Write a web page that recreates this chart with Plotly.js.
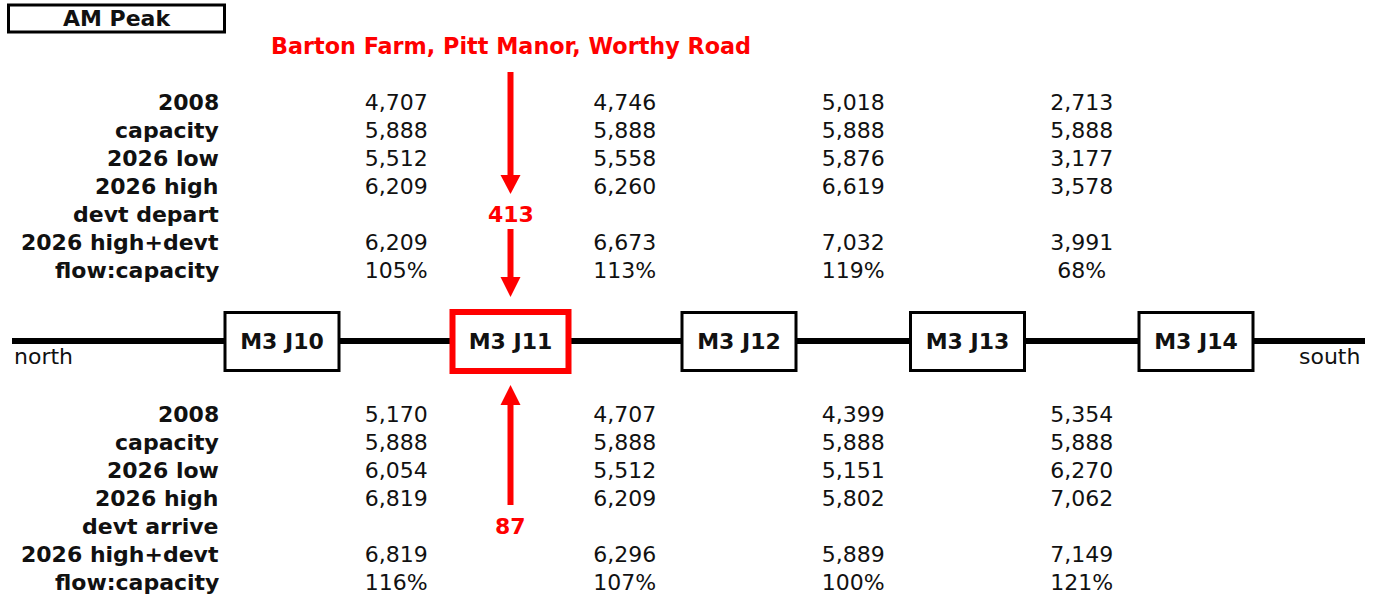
<!DOCTYPE html>
<html>
<head>
<meta charset="utf-8">
<script src="https://cdn.plot.ly/plotly-3.0.1.min.js"></script>
<style>
  html, body { margin: 0; padding: 0; background: #ffffff; }
  #chart { width: 1377px; height: 596px; }
</style>
</head>
<body>
<div id="chart"></div>
<script>
// ---------------- DATA ----------------
const junctions = ["M3 J10", "M3 J11", "M3 J12", "M3 J13", "M3 J14"];
const segments = ["J10-J11", "J11-J12", "J12-J13", "J13-J14"];
const rowLabelsTop = ["2008", "capacity", "2026 low", "2026 high", "devt depart", "2026 high+devt", "flow:capacity"];
const rowLabelsBottom = ["2008", "capacity", "2026 low", "2026 high", "devt arrive", "2026 high+devt", "flow:capacity"];

// southbound (top block)
const top2008 = [4707, 4746, 5018, 2713];
const topCapacity = [5888, 5888, 5888, 5888];
const top2026Low = [5512, 5558, 5876, 3177];
const top2026High = [6209, 6260, 6619, 3578];
const top2026HighDevt = [6209, 6673, 7032, 3991];
const topFlowCapacity = [105, 113, 119, 68];

// northbound (bottom block)
const bottom2008 = [5170, 4707, 4399, 5354];
const bottomCapacity = [5888, 5888, 5888, 5888];
const bottom2026Low = [6054, 5512, 5151, 6270];
const bottom2026High = [6819, 6209, 5802, 7062];
const bottom2026HighDevt = [6819, 6296, 5889, 7149];
const bottomFlowCapacity = [116, 107, 100, 121];

const devtJunction = "M3 J11";
const devtName = "Barton Farm, Pitt Manor, Worthy Road";
const devtDepart = 413;
const devtArrive = 87;
const periodLabel = "AM Peak";

// ---------------- LAYOUT HELPERS ----------------
const FONT = "DejaVu Sans, Verdana, sans-serif";
const RED = "#ff0000";
const INK = "#111111";
const X0 = 282, DX = 228.5;                // pixel of first junction, junction spacing
const px = p => (p - X0) / DX;             // pixel -> x data units
const HW = 10 / DX;                        // half arrow-head width
const fmt = v => v.toLocaleString("en-US");
const pct = v => v + "%";

const jIdx = junctions.map((_, i) => i);
const segIdx = segments.map((_, i) => i + 0.5);
const dj = junctions.indexOf(devtJunction);

const topRowsY = [102, 130, 158, 186, 214, 242, 270];
const botRowsY = [414, 442, 470, 498, 526, 554, 582];

const topRows = [top2008.map(fmt), topCapacity.map(fmt), top2026Low.map(fmt), top2026High.map(fmt), null, top2026HighDevt.map(fmt), topFlowCapacity.map(pct)];
const botRows = [bottom2008.map(fmt), bottomCapacity.map(fmt), bottom2026Low.map(fmt), bottom2026High.map(fmt), null, bottom2026HighDevt.map(fmt), bottomFlowCapacity.map(pct)];

const TXT_DY = 2.5;   // baseline nudge for text traces
const traces = [];
function addRows(rows, ys) {
  rows.forEach((r, k) => {
    if (!r) return;
    traces.push({
      type: "scatter", mode: "text", x: segIdx, y: segIdx.map(() => ys[k] + TXT_DY),
      text: r, textposition: "middle center",
      textfont: { family: FONT, size: 22, color: INK },
      hoverinfo: "skip", showlegend: false, cliponaxis: false
    });
  });
}
addRows(topRows, topRowsY);
addRows(botRows, botRowsY);

// junction labels
traces.push({
  type: "scatter", mode: "text", x: jIdx, y: jIdx.map(() => 341 + TXT_DY),
  text: junctions, textposition: "middle center",
  textfont: { family: FONT, size: 22, color: INK, weight: "bold" },
  hoverinfo: "skip", showlegend: false, cliponaxis: false
});

const annotations = [];
const addLabel = (t, y) => annotations.push({
  x: px(221), y: y, xref: "x", yref: "y", text: "<b>" + t + "</b>",
  showarrow: false, xanchor: "right", yanchor: "middle",
  font: { family: FONT, size: 22, color: INK }
});
rowLabelsTop.forEach((t, k) => addLabel(t, topRowsY[k]));
rowLabelsBottom.forEach((t, k) => addLabel(t, botRowsY[k]));
annotations.push(
  { x: px(117), y: 18, xref: "x", yref: "y", text: "<b>" + periodLabel + "</b>", showarrow: false,
    xanchor: "center", yanchor: "middle", font: { family: FONT, size: 22, color: INK } },
  { x: dj, y: 46, xref: "x", yref: "y", text: "<b>" + devtName + "</b>", showarrow: false,
    xanchor: "center", yanchor: "middle", font: { family: FONT, size: 22.3, color: RED } },
  { x: dj, y: 214, xref: "x", yref: "y", text: "<b>" + fmt(devtDepart) + "</b>", showarrow: false,
    xanchor: "center", yanchor: "middle", font: { family: FONT, size: 22, color: RED } },
  { x: dj, y: 526, xref: "x", yref: "y", text: "<b>" + fmt(devtArrive) + "</b>", showarrow: false,
    xanchor: "center", yanchor: "middle", font: { family: FONT, size: 22, color: RED } },
  { x: px(12), y: 356, xref: "x", yref: "y", text: "north", showarrow: false,
    xanchor: "left", yanchor: "middle", font: { family: FONT, size: 22, color: INK } },
  { x: px(1362), y: 356, xref: "x", yref: "y", text: "south", showarrow: false,
    xanchor: "right", yanchor: "middle", font: { family: FONT, size: 22, color: INK } }
);

const shapes = [];
// road
shapes.push({ type: "line", layer: "below", x0: px(12), x1: px(1365), y0: 341, y1: 341,
  line: { color: "#000", width: 6 } });
// junction boxes
jIdx.forEach(i => {
  if (i === dj) {
    shapes.push({ type: "rect", layer: "below", x0: i - 58 / DX, x1: i + 58 / DX, y0: 312, y1: 371,
      fillcolor: "#fff", line: { color: RED, width: 6 } });
  } else {
    shapes.push({ type: "rect", layer: "below", x0: i - 57 / DX, x1: i + 57 / DX, y0: 312.5, y1: 370.5,
      fillcolor: "#fff", line: { color: "#000", width: 3 } });
  }
});
// period box
shapes.push({ type: "rect", layer: "below", x0: px(8.5), x1: px(224.5), y0: 5, y1: 32,
  fillcolor: "#fff", line: { color: "#000", width: 3 } });
// arrows
function arrowDown(yStart, yHeadBase, yTip) {
  shapes.push({ type: "line", layer: "below", x0: dj, x1: dj, y0: yStart, y1: yHeadBase + 1,
    line: { color: RED, width: 6 } });
  shapes.push({ type: "path", layer: "below",
    path: `M ${dj - HW},${yHeadBase} L ${dj + HW},${yHeadBase} L ${dj},${yTip} Z`,
    fillcolor: RED, line: { color: RED, width: 0 } });
}
arrowDown(72, 175, 194);
arrowDown(229, 277, 297);
// up arrow
shapes.push({ type: "line", layer: "below", x0: dj, x1: dj, y0: 505, y1: 404,
  line: { color: RED, width: 6 } });
shapes.push({ type: "path", layer: "below",
  path: `M ${dj - HW},405 L ${dj + HW},405 L ${dj},385 Z`,
  fillcolor: RED, line: { color: RED, width: 0 } });

const layout = {
  width: 1377, height: 596,
  margin: { l: 0, r: 0, t: 0, b: 0 },
  paper_bgcolor: "#ffffff", plot_bgcolor: "rgba(0,0,0,0)",
  xaxis: { range: [px(0), px(1377)], visible: false, fixedrange: true },
  yaxis: { range: [596, 0], visible: false, fixedrange: true },
  showlegend: false, hovermode: false,
  shapes: shapes, annotations: annotations
};

Plotly.newPlot("chart", traces, layout, { staticPlot: true, displayModeBar: false });
</script>
</body>
</html>
